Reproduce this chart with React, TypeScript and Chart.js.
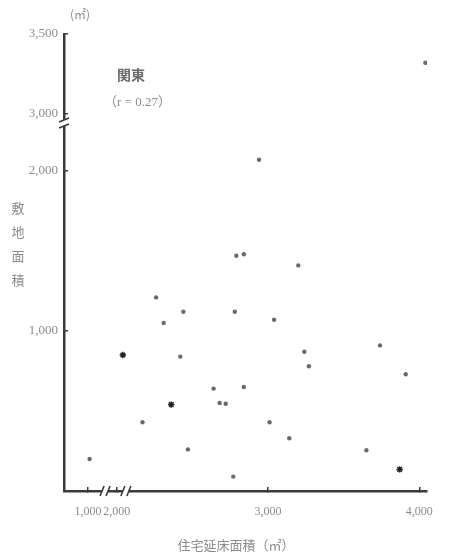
import { useEffect, useRef } from "react";
import { Chart, registerables, LinearScale } from "chart.js";

Chart.register(...registerables);

// 住宅延床面積 (x, ㎡) vs 敷地面積 (y, ㎡)
const areaX = [4040, 2940, 2790, 2840, 3200, 2260, 2780, 2440, 2310, 3040, 3740, 2420, 3240, 3270, 3910, 2640, 2840, 2680, 2720, 2170, 3010, 3140, 2470, 3650, 1010, 2770];
const areaY = [3320, 2070, 1470, 1480, 1410, 1210, 1120, 1120, 1050, 1070, 910, 840, 870, 780, 730, 640, 650, 550, 545, 430, 430, 330, 260, 255, 200, 90];
const starX = [2040, 2360, 3870];
const starY = [850, 540, 135];
const xTicks = [1000, 2000, 3000, 4000];
const yTicks = [1000, 2000, 3000, 3500];
const regionLabel = "関東";
const corrLabel = "（r = 0.27）";
const xTitle = "住宅延床面積（㎡）";
const yTitle = "敷地面積";
const unitLabel = "(㎡)";

// axis breaks
const xFwd = (v: number) => (v < 1500 ? v + 810 : v);
const xInv = (c: number) => (c < 1900 ? c - 810 : c);
const yFwd = (v: number) => (v <= 2300 ? v : Math.max(2300, v - 644));
const yInv = (c: number) => (c <= 2300 ? c : c + 644);

function makeBreakScale(id: string, fwd: (v: number) => number, inv: (c: number) => number, tickValues: number[]) {
  class BreakScale extends LinearScale {
    static id = id;
    static defaults = LinearScale.defaults;
    buildTicks() {
      return tickValues.map((value) => ({ value }));
    }
    getPixelForValue(value: number) {
      return super.getPixelForValue(fwd(value));
    }
    getValueForPixel(pixel: number) {
      return inv(super.getValueForPixel(pixel) as number);
    }
  }
  return BreakScale;
}

const XBreak = makeBreakScale("xbreak", xFwd, xInv, xTicks);
const YBreak = makeBreakScale("ybreak", yFwd, yInv, yTicks);
Chart.register(XBreak as any, YBreak as any);

const AXIS = "#3a3a3a";
const TEXT = "#8c8c8c";

const deco = {
  id: "deco",
  afterDraw(chart: any) {
    const { ctx, chartArea } = chart;
    const xs = chart.scales.x;
    const ys = chart.scales.y;
    ctx.save();
    // y break
    const yb = ys.getPixelForValue(2300);
    const ax = chartArea.left;
    ctx.fillStyle = "#fff";
    ctx.fillRect(ax - 4, yb - 3, 8, 6);
    ctx.strokeStyle = AXIS;
    ctx.lineWidth = 1.6;
    for (const d of [-3, 3]) {
      ctx.beginPath();
      ctx.moveTo(ax - 5, yb + d + 2);
      ctx.lineTo(ax + 5, yb + d - 2);
      ctx.stroke();
    }
    // x breaks
    const ay = chartArea.bottom;
    for (const bx of [xs.getPixelForValue(1250), xs.getPixelForValue(1000) + 17]) {
      ctx.fillStyle = "#fff";
      ctx.fillRect(bx - 3, ay - 4, 6, 8);
      ctx.strokeStyle = AXIS;
      for (const d of [-3, 3]) {
        ctx.beginPath();
        ctx.moveTo(bx + d - 2, ay + 5);
        ctx.lineTo(bx + d + 2, ay - 5);
        ctx.stroke();
      }
    }
    // texts
    ctx.fillStyle = TEXT;
    ctx.textBaseline = "middle";
    ctx.textAlign = "center";
    ctx.font = "12px 'Noto Sans CJK JP'";
    ctx.fillText(unitLabel, 80, 14);
    ctx.font = "bold 14px 'Noto Sans CJK JP'";
    ctx.fillStyle = "#6a6a6a";
    ctx.textAlign = "left";
    ctx.fillText(regionLabel, 117, 75);
    ctx.font = "13px 'Liberation Serif', 'Noto Sans CJK JP'";
    ctx.fillStyle = TEXT;
    ctx.fillText(corrLabel, 104, 103);
    // y title stacked
    ctx.textAlign = "center";
    ctx.font = "13px 'Noto Sans CJK JP'";
    const chars = Array.from(yTitle);
    chars.forEach((ch, i) => ctx.fillText(ch, 18, 208 + i * 24));
    // x title
    ctx.fillText(xTitle, 236, 545);
    ctx.restore();
  },
};

export default function App() {
  const ref = useRef<HTMLCanvasElement | null>(null);
  useEffect(() => {
    if (!ref.current) return;
    const fmt = (v: any) => Number(v).toLocaleString("en-US");
    const chart = new Chart(ref.current, {
      type: "scatter",
      data: {
        datasets: [
          {
            data: areaX.map((x, i) => ({ x, y: areaY[i] })),
            pointRadius: 2.2,
            backgroundColor: "#6a6a6a",
            borderWidth: 0,
          },
          {
            data: starX.map((x, i) => ({ x, y: starY[i] })),
            pointStyle: "star",
            pointRadius: 3.2,
            borderColor: "#222",
            backgroundColor: "#222",
            borderWidth: 1.5,
          },
        ],
      },
      options: {
        animation: false,
        responsive: false,
        events: [],
        layout: { padding: { left: 0, top: 34, right: 9, bottom: 0 } },
        plugins: { legend: { display: false }, tooltip: { enabled: false } },
        scales: {
          x: {
            type: "xbreak" as any,
            min: 1651,
            max: 4050,
            border: { color: AXIS, width: 2.5 },
            grid: { display: true, drawOnChartArea: false, drawTicks: true, tickLength: -4, color: AXIS, lineWidth: 1.5 },
            ticks: { autoSkip: false, maxRotation: 0, padding: 18, color: TEXT, font: { family: "'Liberation Serif', serif", size: 12 }, callback: fmt },
            afterFit: (s: any) => {
              s.height = 66;
            },
          },
          y: {
            type: "ybreak" as any,
            min: 0,
            max: 2856,
            border: { color: AXIS, width: 2.5 },
            grid: { display: true, drawOnChartArea: false, drawTicks: true, tickLength: -4, color: AXIS, lineWidth: 1.5 },
            ticks: { autoSkip: false, padding: 10, color: TEXT, font: { family: "'Liberation Serif', serif", size: 13 }, callback: fmt },
            afterFit: (s: any) => {
              s.width = 64;
            },
          },
        },
      },
      plugins: [deco],
    });
    return () => chart.destroy();
  }, []);
  return (
    <div style={{ position: "fixed", left: 0, top: 0, width: 451, height: 557, background: "#fff" }}>
      <canvas ref={ref} width={451} height={557} style={{ display: "block" }} />
    </div>
  );
}
